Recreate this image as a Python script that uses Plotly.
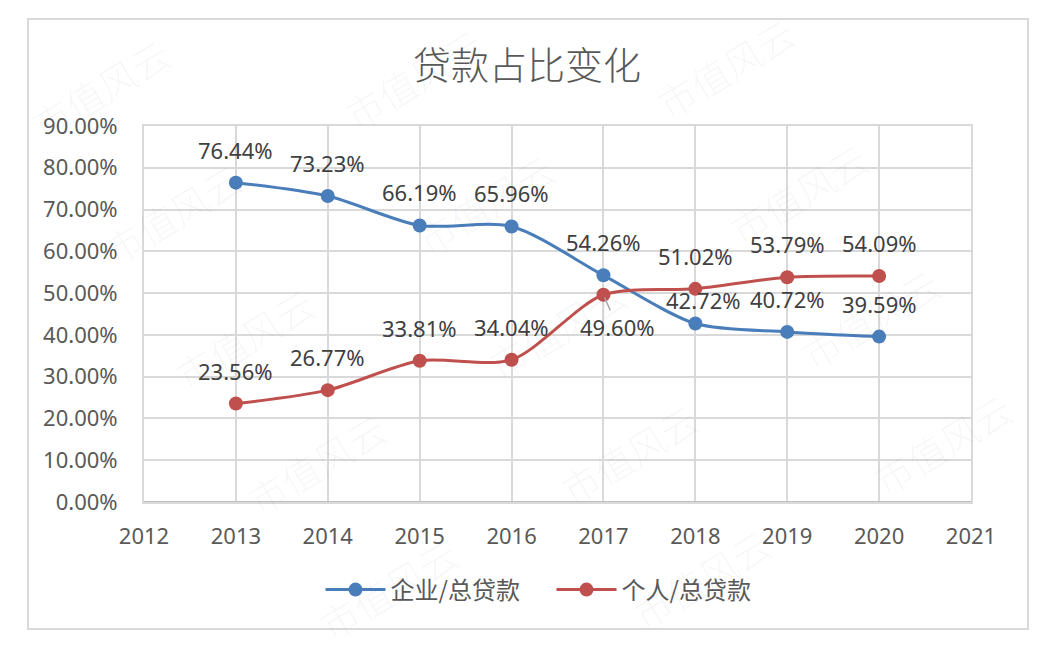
import plotly.graph_objects as go

# ---------------- data ----------------
years = [2013, 2014, 2015, 2016, 2017, 2018, 2019, 2020]
corp_share = [76.44, 73.23, 66.19, 65.96, 54.26, 42.72, 40.72, 39.59]   # 企业/总贷款
pers_share = [23.56, 26.77, 33.81, 34.04, 49.60, 51.02, 53.79, 54.09]   # 个人/总贷款
series_names = ["企业/总贷款", "个人/总贷款"]
x_ticks = list(range(2012, 2022))
y_ticks = [0, 10, 20, 30, 40, 50, 60, 70, 80, 90]
title_text = "贷款占比变化"
watermark_text = "市值风云"

# ---------------- style ----------------
W, H = 1051, 650
L, R, T, B = 144, 971, 126, 502          # plot area in pixels
BLUE = "#4a7ebb"
RED = "#c0504d"
GRID = "#d9d9d9"
TXT = "#595959"
LBL = "#404040"
NUM_FONT = "Noto Sans"
CJK_FONT = "Noto Sans CJK SC"


def px_x(p):
    return (p - L) / (R - L)


def px_y(p):
    return (B - p) / (B - T)


fig = go.Figure()
for name, vals, col in [(series_names[0], corp_share, BLUE), (series_names[1], pers_share, RED)]:
    fig.add_trace(go.Scatter(
        x=years, y=vals, name=name, mode="lines+markers",
        line=dict(color=col, width=3, shape="spline", smoothing=0.8),
        marker=dict(color=col, size=14),
        hoverinfo="skip",
    ))

annotations = []
# faint rotated watermarks (drawn first, only those fully inside the canvas)
for i in range(-1, 4):
    for j in range(-1, 6):
        cx = 100 + 313 * i + 72 * j
        cy = 88 - 10 * i + 125 * j
        if 80 <= cx <= W - 80 and 50 <= cy <= H - 50:
            annotations.append(dict(
                x=px_x(cx), y=px_y(cy), xref="paper", yref="paper",
                text=watermark_text, showarrow=False, textangle=-31,
                xanchor="center", yanchor="middle",
                font=dict(family=CJK_FONT, size=38, color="rgba(0,0,0,0.045)", weight=300),
            ))

# data labels (pixel offsets; default = above the point)
special = {(0, 2018): (8, 24), (1, 2017): (14, -32)}
for si, vals in enumerate([corp_share, pers_share]):
    for yr, v in zip(years, vals):
        xs, ys = special.get((si, yr), (0, 33))
        if (si, yr) == (1, 2017):
            annotations.append(dict(
                x=yr, y=v, xref="x", yref="y", text=f"{v:.2f}%",
                showarrow=True, arrowhead=0, arrowwidth=1.5, arrowcolor="#a6a6a6",
                ax=xs, ay=-ys, standoff=3,
                font=dict(family=NUM_FONT, size=22, color=LBL),
            ))
        else:
            annotations.append(dict(
                x=yr, y=v, xref="x", yref="y", text=f"{v:.2f}%",
                showarrow=False, xshift=xs, yshift=ys,
                xanchor="center", yanchor="middle",
                font=dict(family=NUM_FONT, size=22, color=LBL),
            ))

fig.update_layout(
    width=W, height=H,
    margin=dict(l=L, r=W - R, t=T, b=H - B, pad=0),
    paper_bgcolor="white", plot_bgcolor="white",
    title=dict(text=title_text, x=527 / W, xanchor="center", y=1 - 66 / H, yanchor="middle",
               xref="container", yref="container",
               font=dict(family=CJK_FONT, size=38, color=TXT, weight=300)),
    xaxis=dict(range=[2012, 2021], tickmode="array", tickvals=x_ticks,
               showgrid=True, gridcolor=GRID, gridwidth=2,
               showline=True, mirror=True, linecolor=GRID, linewidth=2, zeroline=False,
               ticks="", ticklabelstandoff=14,
               tickfont=dict(family=NUM_FONT, size=22, color=TXT)),
    yaxis=dict(range=[0, 90], tickmode="array", tickvals=y_ticks,
               ticktext=[f"{v:.2f}%" for v in y_ticks],
               showgrid=True, gridcolor=GRID, gridwidth=2,
               showline=True, mirror=True, linecolor=GRID, linewidth=2, zeroline=False,
               ticks="", ticklabelstandoff=20,
               tickfont=dict(family=NUM_FONT, size=22, color=TXT)),
    legend=dict(orientation="h", x=0.5 - 6 / (R - L), xanchor="center", y=px_y(590), yanchor="middle",
                itemwidth=60, entrywidth=156, entrywidthmode="pixels",
                font=dict(family=CJK_FONT, size=24, color=TXT), bgcolor="rgba(0,0,0,0)"),
    annotations=annotations,
    shapes=[
        dict(type="rect", xref="paper", yref="paper",
             x0=px_x(28), x1=px_x(1028), y0=px_y(629), y1=px_y(19),
             line=dict(color=GRID, width=2), layer="below"),
        dict(type="line", xref="paper", yref="y", x0=0, x1=1, y0=0, y1=0,
             line=dict(color="#bfbfbf", width=2), layer="above"),
    ],
    showlegend=True,
)

fig.write_html("out.html")
